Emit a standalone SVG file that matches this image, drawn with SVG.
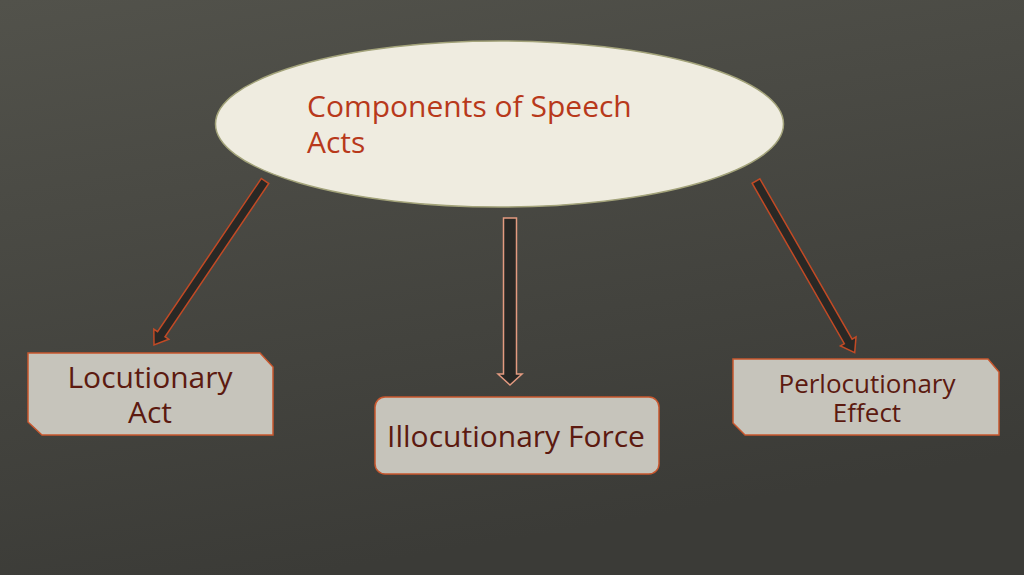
<svg xmlns="http://www.w3.org/2000/svg" width="1024" height="575" viewBox="0 0 1024 575">
<defs>
<linearGradient id="bg" x1="0" y1="0" x2="0.3" y2="1">
<stop offset="0" stop-color="#52524b"/>
<stop offset="1" stop-color="#3b3b37"/>
</linearGradient>
<style>
.lbl{font-family:"Open Sans","Noto Sans","DejaVu Sans",sans-serif;fill:#5c1a10;text-anchor:middle}
.box{fill:#c6c4bb;stroke:#c8572e;stroke-width:1.5}
.arr{fill:#292825;stroke:#c24a25;stroke-width:1.5}
</style>
</defs>
<rect width="1024" height="575" fill="url(#bg)"/>
<g id="root">
<ellipse cx="499.5" cy="124" rx="284" ry="83" fill="#efece0" stroke="#a3a37a" stroke-width="1.5"/>
<text font-family="'Open Sans','Noto Sans',sans-serif" font-size="30" fill="#b8391b"><tspan x="307" y="117">Components of Speech</tspan><tspan x="307" y="153">Acts</tspan></text>
</g>
<g id="connectors">
<polygon class="arr" transform="translate(265,181) rotate(124.1)" points="0,-4.5 185,-4.5 185,-9 198,0 185,9 185,4.5 0,4.5"/>
<polygon class="arr" transform="translate(510,218) rotate(90)" points="0,-6.5 156,-6.5 156,-12 167,0 156,12 156,6.5 0,6.5" style="stroke:#e39a80"/>
<polygon class="arr" transform="translate(756,181) rotate(60.1)" points="0,-4.5 185,-4.5 185,-9 198,0 185,9 185,4.5 0,4.5"/>
</g>
<g id="locutionary">
<polygon class="box" points="28,353 260,353 273,367 273,435 42,435 28,422"/>
<text class="lbl" font-size="30"><tspan x="150" y="388">Locutionary</tspan><tspan x="150" y="423">Act</tspan></text>
</g>
<g id="illocutionary">
<rect class="box" x="375" y="397" width="284" height="77" rx="10"/>
<text class="lbl" font-size="30" x="516" y="447">Illocutionary Force</text>
</g>
<g id="perlocutionary">
<polygon class="box" points="733,359 988,359 999,372 999,435 745,435 733,423"/>
<text class="lbl" font-size="26"><tspan x="867" y="393">Perlocutionary</tspan><tspan x="867" y="422">Effect</tspan></text>
</g>
</svg>
